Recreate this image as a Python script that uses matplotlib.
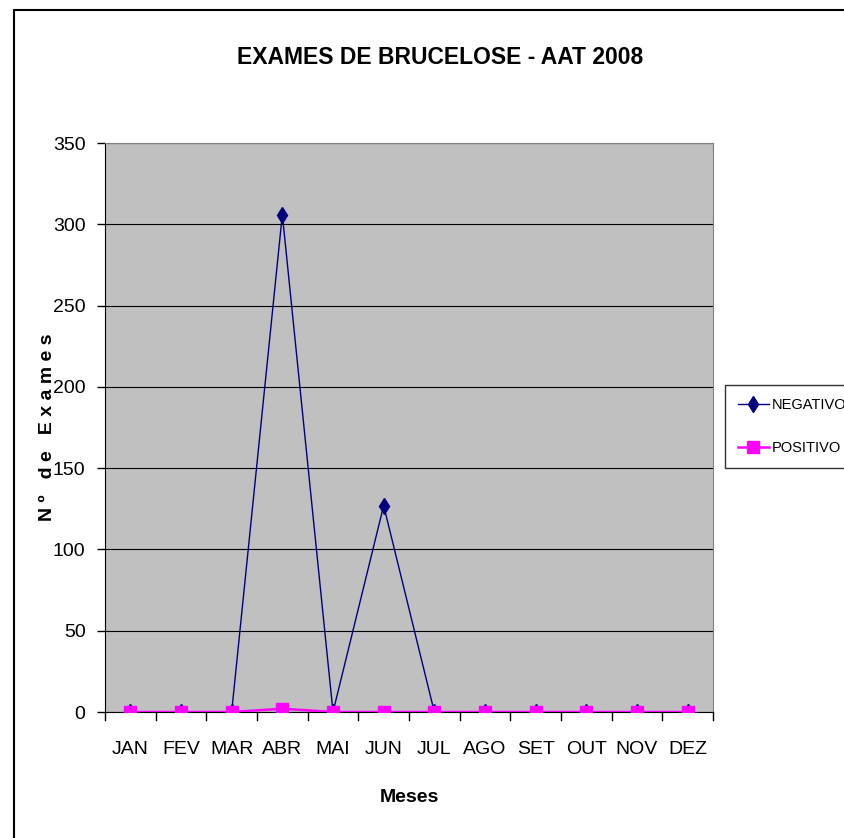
import matplotlib
matplotlib.use("Agg")
import matplotlib.pyplot as plt
from matplotlib.patches import Rectangle
from matplotlib import font_manager

# ── data ──
months = ["JAN", "FEV", "MAR", "ABR", "MAI", "JUN", "JUL", "AGO", "SET", "OUT", "NOV", "DEZ"]
negativo = [0, 0, 0, 306, 0, 127, 0, 0, 0, 0, 0, 0]
positivo = [0, 0, 0, 2, 0, 0, 0, 0, 0, 0, 0, 0]
yticks = [0, 50, 100, 150, 200, 250, 300, 350]

names = {f.name for f in font_manager.fontManager.ttflist}
FONT = "Liberation Sans Narrow" if "Liberation Sans Narrow" in names else "Liberation Sans"
plt.rcParams["font.family"] = [FONT, "DejaVu Sans"]

W, H = 845, 838
fig = plt.figure(figsize=(W / 100, H / 100), dpi=100)

# outer chart border
fig.patches.append(Rectangle((14 / W, -0.01), 1.0, 1 - 10 / H + 0.01,
                             transform=fig.transFigure, fill=False,
                             edgecolor="black", linewidth=1.5, zorder=0))

ax = fig.add_axes([105 / W, 1 - 712 / H, (713 - 105) / W, (712 - 143) / H])
ax.set_facecolor("#C0C0C0")

x = list(range(len(months)))
ax.plot(x, negativo, color="#000080", linewidth=1.0, marker="d",
        markersize=8, label="NEGATIVO", zorder=3)
ax.plot(x, positivo, color="#FF00FF", linewidth=1.8, marker="s",
        markersize=8, label="POSITIVO", zorder=4)

ax.set_xlim(-0.5, len(months) - 0.5)
ax.set_ylim(0, 350)
ax.set_yticks(yticks)
ax.set_xticks(x)
ax.set_xticklabels(months, fontsize=14)
ax.tick_params(axis="y", labelsize=14, direction="out", length=6, width=1, pad=8)
ax.tick_params(axis="x", length=0, pad=21)
# x category boundary ticks
for b in range(len(months) + 1):
    ax.plot([b - 0.5, b - 0.5], [0, -0.014], transform=ax.get_xaxis_transform(),
            color="black", linewidth=1, clip_on=False)

ax.grid(axis="y", color="black", linewidth=0.8)
ax.set_axisbelow(True)
for side in ["top", "right"]:
    ax.spines[side].set_color("#808080")
ax.spines["left"].set_color("black")
ax.spines["bottom"].set_color("black")

ax.set_xlabel("Meses", fontsize=14, fontweight="bold")
ax.xaxis.set_label_coords(0.5, -(789 - 712) / (712 - 143))
ax.set_ylabel("N º   d e   E x a m e s", fontsize=14, fontweight="bold")
ax.yaxis.set_label_coords(-(105 - 56) / (713 - 105), 0.5)
fig.text(440 / W, 1 - 57 / H, "EXAMES DE BRUCELOSE - AAT 2008", ha="center", va="center",
         fontsize=16.5, fontweight="bold")

leg = fig.legend(loc="upper left", bbox_to_anchor=(725 / W, 1 - 385 / H),
                 borderaxespad=0, fontsize=10.5, frameon=True, fancybox=False,
                 edgecolor="black", borderpad=0.9, labelspacing=2.0,
                 handlelength=2.1, handletextpad=0.2)
leg.get_frame().set_linewidth(1.0)

fig.savefig("out.png", dpi=100)
